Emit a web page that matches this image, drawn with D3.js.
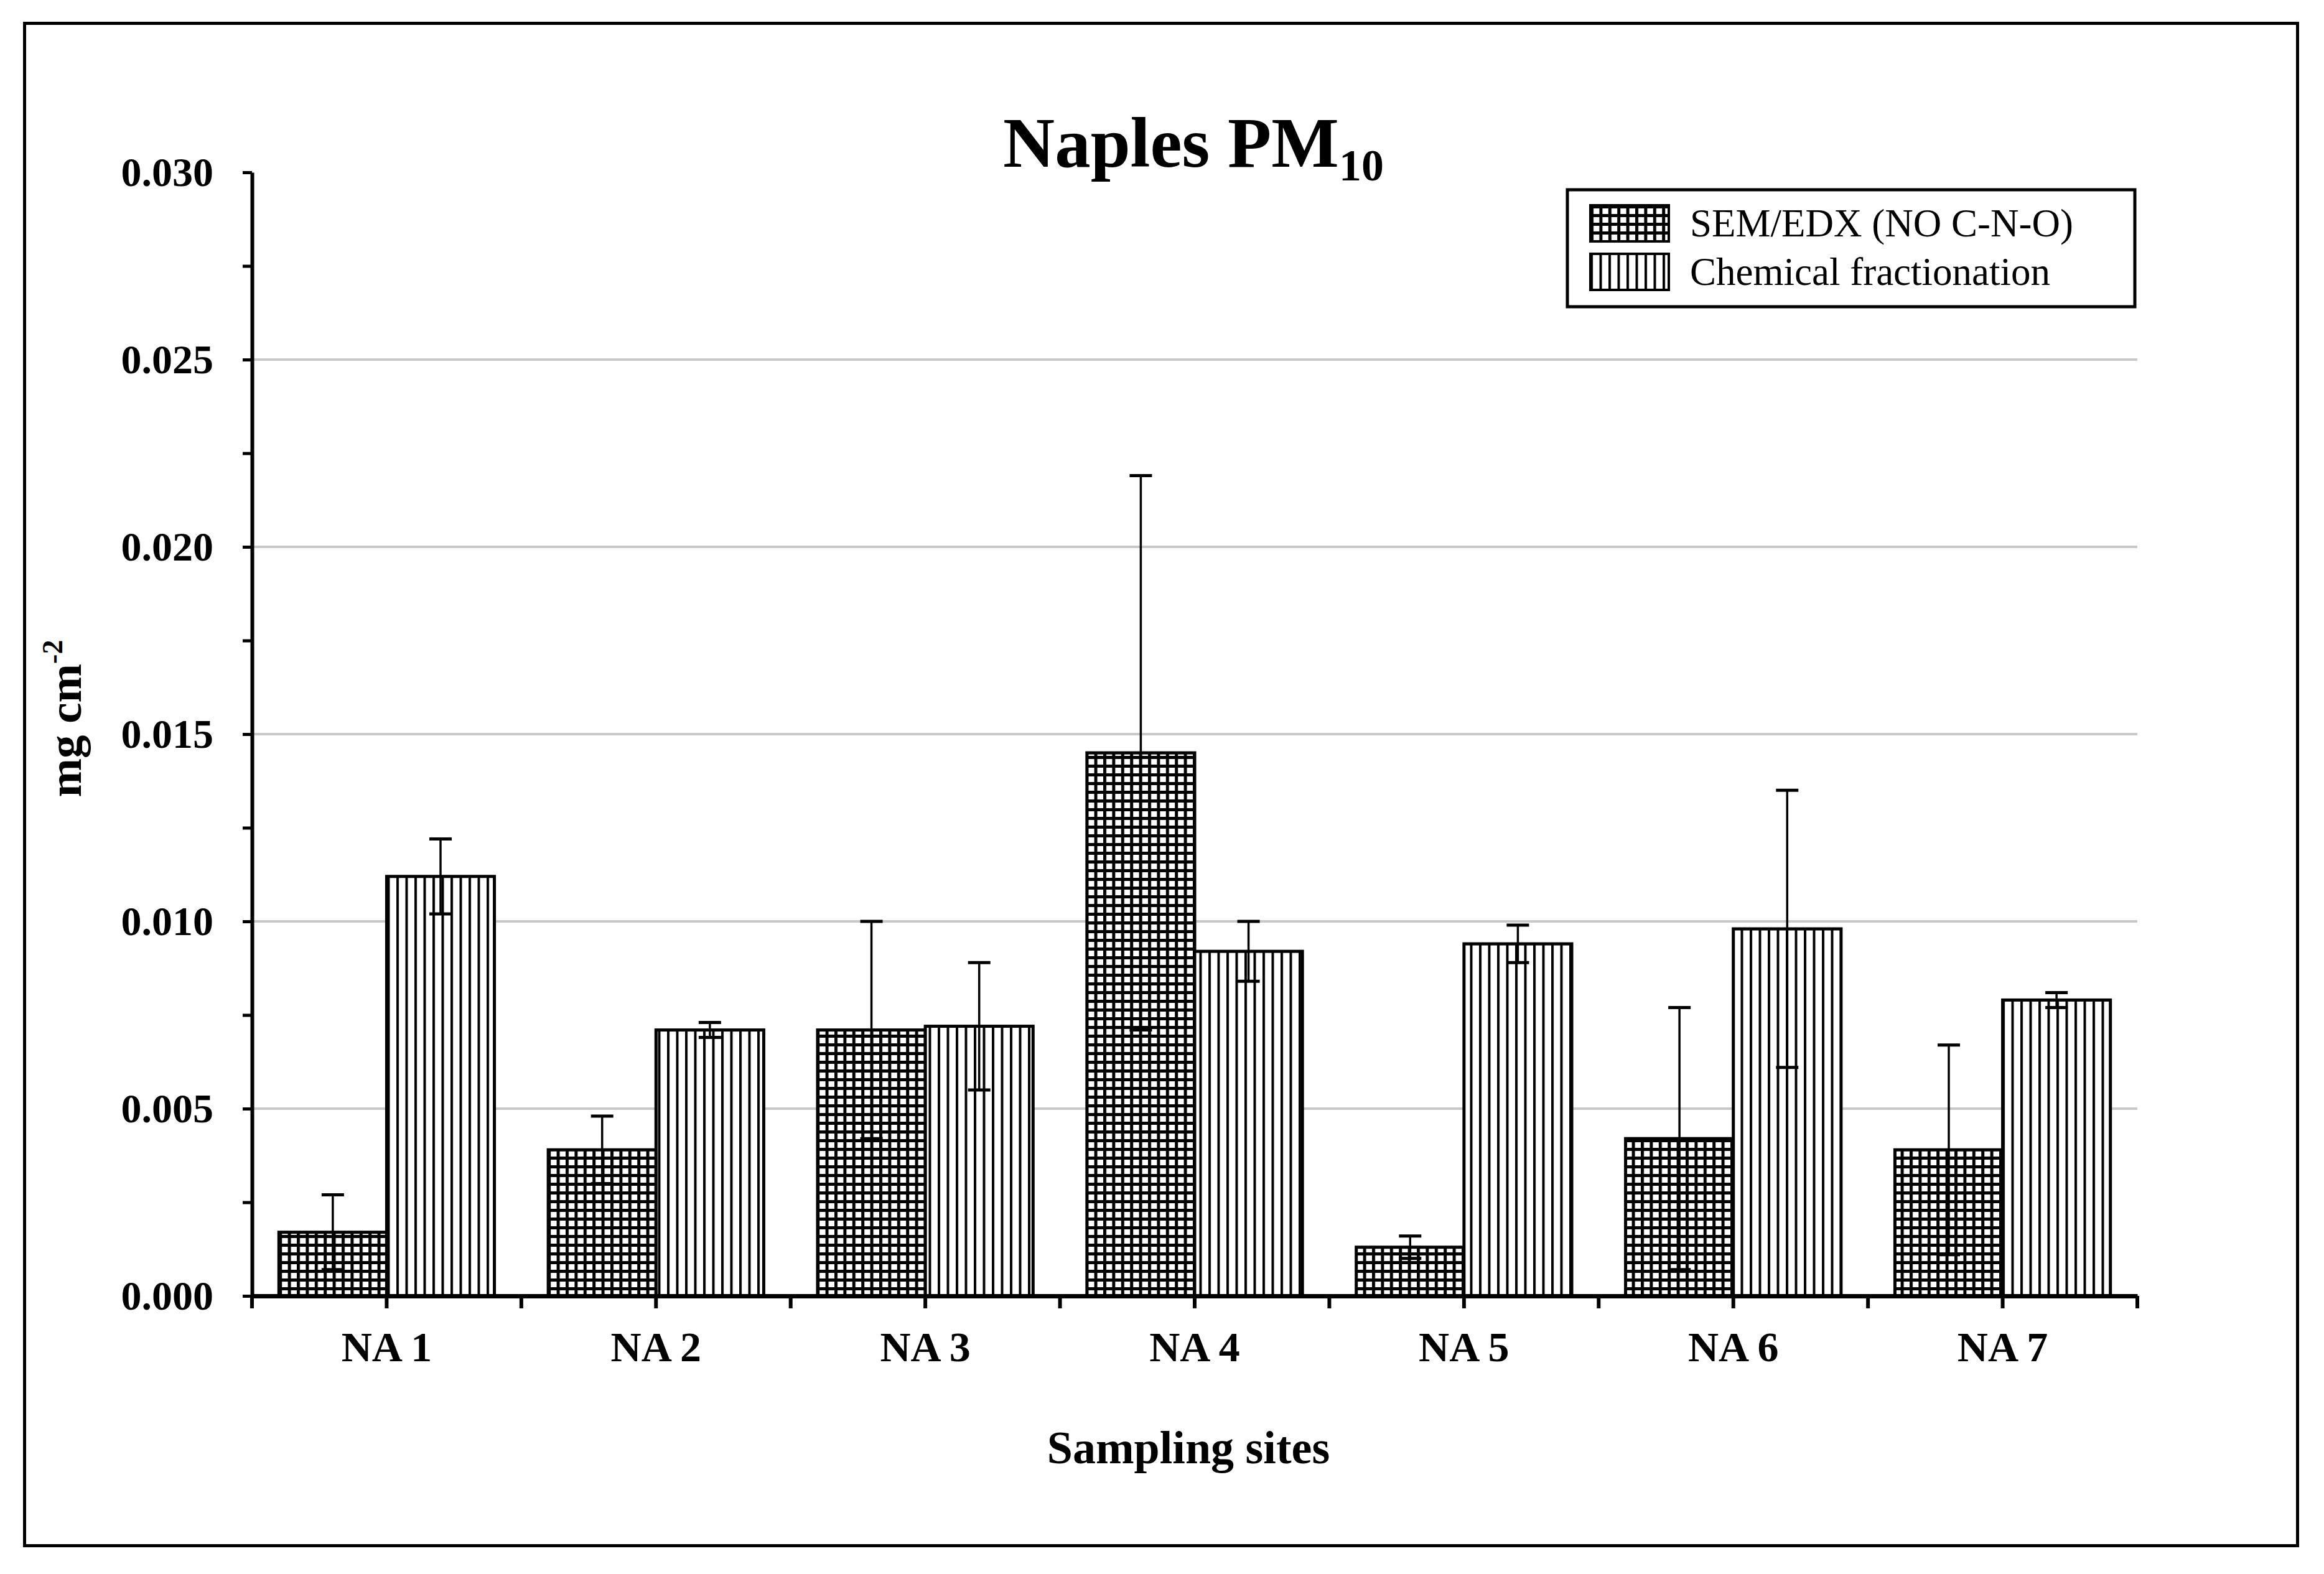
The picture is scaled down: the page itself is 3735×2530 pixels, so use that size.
<!DOCTYPE html>
<html>
<head>
<meta charset="utf-8">
<script src="https://cdn.jsdelivr.net/npm/d3@7"></script>
<style>
  body { margin: 0; background: #fff; }
  text { font-family: "Liberation Serif", "Times New Roman", serif; fill: #000; }
</style>
</head>
<body>
<div id="chart"></div>
<script>
// values (mg cm-2)
var sites = ["NA 1", "NA 2", "NA 3", "NA 4", "NA 5", "NA 6", "NA 7"]
var series = ["SEM/EDX (NO C-N-O)", "Chemical fractionation"]
var semValues  = [0.0017, 0.0039, 0.0071, 0.0145, 0.0013, 0.0042, 0.0039]
var semErrors  = [0.0010, 0.0009, 0.0029, 0.0074, 0.0003, 0.0035, 0.0028]
var chemValues = [0.0112, 0.0071, 0.0072, 0.0092, 0.0094, 0.0098, 0.0079]
var chemErrors = [0.0010, 0.0002, 0.0017, 0.0008, 0.0005, 0.0037, 0.0002]
var yLabels = ["0.000", "0.005", "0.010", "0.015", "0.020", "0.025", "0.030"]

var width = 3735
var height = 2530
var margin = {left: 405, right: 300, top: 277, bottom: 447}
var w = width - margin.left - margin.right
var h = height - margin.top - margin.bottom

var svg, g, x0, x1, y

var data = []
sites.forEach(function(s, i){
  data.push({site: s, key: series[0], value: semValues[i], err: semErrors[i], pat: "url(#grid)"})
  data.push({site: s, key: series[1], value: chemValues[i], err: chemErrors[i], pat: "url(#vlines)"})
})

init_vis()
draw_grid()
draw_bars()
draw_axes()
draw_labels()
draw_legend()

function init_vis(){
  svg = d3.select("#chart")
    .append("svg")
      .attr("width", width)
      .attr("height", height)

  svg.append("rect")
    .attr("width", width)
    .attr("height", height)
    .attr("fill", "#fff")

  var defs = svg.append("defs")

  // crosshatch for SEM/EDX
  var p1 = defs.append("pattern")
    .attr("id", "grid")
    .attr("patternUnits", "userSpaceOnUse")
    .attr("width", 14.4)
    .attr("height", 14)
  p1.append("rect").attr("width", 14.4).attr("height", 14).attr("fill", "#fff")
  p1.append("rect").attr("width", 5).attr("height", 14).attr("fill", "#000")
  p1.append("rect").attr("width", 14.4).attr("height", 5).attr("fill", "#000")

  // vertical lines for chemical fractionation
  var p2 = defs.append("pattern")
    .attr("id", "vlines")
    .attr("patternUnits", "userSpaceOnUse")
    .attr("width", 14.5)
    .attr("height", 10)
  p2.append("rect").attr("width", 14.5).attr("height", 10).attr("fill", "#fff")
  p2.append("rect").attr("width", 4).attr("height", 10).attr("fill", "#000")

  // outer frame
  svg.append("rect")
    .attr("x", 39.5)
    .attr("y", 37.5)
    .attr("width", 3653)
    .attr("height", 2447)
    .attr("fill", "none")
    .attr("stroke", "#000")
    .attr("stroke-width", 5)

  g = svg.append("g")
    .attr("transform", "translate(" + margin.left + "," + margin.top + ")")

  x0 = d3.scaleBand()
    .domain(sites)
    .range([0, w])
    .paddingInner(0.2)
    .paddingOuter(0.1)

  x1 = d3.scaleBand()
    .domain(series)
    .range([0, x0.bandwidth()])

  y = d3.scaleLinear()
    .domain([0, 0.03])
    .range([h, 0])
}

function draw_grid(){
  g.append("g")
    .selectAll("line")
    .data([0.005, 0.010, 0.015, 0.020, 0.025])
    .enter().append("line")
      .attr("x1", 0)
      .attr("x2", w)
      .attr("y1", d => y(d))
      .attr("y2", d => y(d))
      .attr("stroke", "#c8c8c8")
      .attr("stroke-width", 4)
}

function draw_bars(){
  g.append("g")
    .selectAll("rect")
    .data(data)
    .enter().append("rect")
      .attr("x", d => x0(d.site) + x1(d.key))
      .attr("y", d => y(d.value))
      .attr("width", x1.bandwidth())
      .attr("height", d => h - y(d.value))
      .attr("fill", d => d.pat)
      .attr("stroke", "#000")
      .attr("stroke-width", 5)

  var eb = g.append("g")
    .selectAll("g")
    .data(data)
    .enter().append("g")
      .attr("transform", d => "translate(" + (x0(d.site) + x1(d.key) + x1.bandwidth() / 2) + ",0)")

  eb.append("line")
    .attr("y1", d => y(d.value - d.err))
    .attr("y2", d => y(d.value + d.err))
    .attr("stroke", "#000")
    .attr("stroke-width", 3.5)

  eb.selectAll(".cap")
    .data(d => [d.value - d.err, d.value + d.err])
    .enter().append("line")
      .attr("class", "cap")
      .attr("x1", -18)
      .attr("x2", 18)
      .attr("y1", d => y(d))
      .attr("y2", d => y(d))
      .attr("stroke", "#000")
      .attr("stroke-width", 5)
}

function draw_axes(){
  var yAxis = d3.axisLeft(y)
    .tickValues(d3.range(0, 0.03001, 0.0025))
    .tickSize(15)
    .tickSizeOuter(0)
    .tickPadding(47)
    .tickFormat(function(d){
      var k = Math.round(d / 0.005 * 2)
      return k % 2 === 0 ? yLabels[k / 2] : ""
    })

  var ya = g.append("g").call(yAxis)
  ya.select(".domain").attr("stroke-width", 6)
  ya.selectAll(".tick line").attr("stroke-width", 5)
  ya.selectAll("text")
    .style("font-family", "'Liberation Serif', serif")
    .style("font-weight", "bold")
    .style("font-size", "66px")

  var xAxis = d3.axisBottom(x0)
    .tickSize(20)
    .tickSizeOuter(0)
    .tickPadding(37)

  var xa = g.append("g")
    .attr("transform", "translate(0," + h + ")")
    .call(xAxis)
  xa.select(".domain").attr("stroke-width", 7)
  xa.selectAll(".tick line").attr("stroke-width", 6)
  xa.selectAll("text")
    .style("font-family", "'Liberation Serif', serif")
    .style("font-weight", "bold")
    .style("font-size", "68px")

  // ticks between the sites
  xa.selectAll(".sep")
    .data(d3.range(sites.length + 1))
    .enter().append("line")
      .attr("class", "sep")
      .attr("x1", i => i * x0.step())
      .attr("x2", i => i * x0.step())
      .attr("y1", 0)
      .attr("y2", 20)
      .attr("stroke", "#000")
      .attr("stroke-width", 6)
}

function draw_labels(){
  var title = svg.append("text")
    .attr("x", 1918)
    .attr("y", 268)
    .attr("text-anchor", "middle")
    .style("font-weight", "bold")
    .style("font-size", "115px")
  title.append("tspan").text("Naples PM")
  title.append("tspan").text("10")
    .attr("dy", 22)
    .style("font-size", "72px")

  svg.append("text")
    .attr("x", 1910)
    .attr("y", 2352)
    .attr("text-anchor", "middle")
    .style("font-weight", "bold")
    .style("font-size", "74px")
    .text("Sampling sites")

  var yl = svg.append("text")
    .attr("transform", "translate(130,1155) rotate(-90)")
    .attr("text-anchor", "middle")
    .style("font-weight", "bold")
    .style("font-size", "75px")
  yl.append("tspan").text("mg cm")
  yl.append("tspan").text("-2")
    .attr("dy", -30)
    .style("font-size", "46px")
}

function draw_legend(){
  var lg = svg.append("g")

  lg.append("rect")
    .attr("x", 2519)
    .attr("y", 305)
    .attr("width", 912)
    .attr("height", 188)
    .attr("fill", "#fff")
    .attr("stroke", "#000")
    .attr("stroke-width", 5)

  var items = lg.selectAll(".item")
    .data(series)
    .enter().append("g")
      .attr("class", "item")
      .attr("transform", (d, i) => "translate(2556," + (330 + i * 78) + ")")

  items.append("rect")
    .attr("width", 126)
    .attr("height", 58)
    .attr("fill", (d, i) => i === 0 ? "url(#grid)" : "url(#vlines)")
    .attr("stroke", "#000")
    .attr("stroke-width", 4)

  items.append("text")
    .attr("x", 160)
    .attr("y", 50)
    .style("font-size", "63px")
    .text(d => d)
}
</script>
</body>
</html>
